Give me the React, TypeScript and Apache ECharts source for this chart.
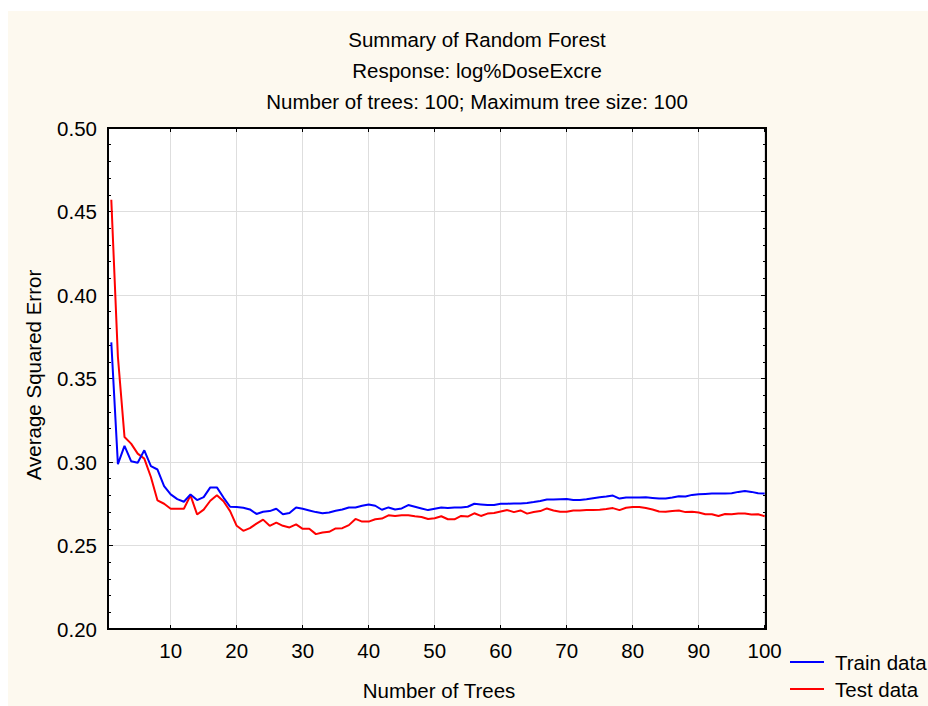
import React, { useEffect, useRef } from "react";
import * as echarts from "echarts";

const trees: number[] = Array.from({ length: 100 }, (_, i) => i + 1);

const trainData: number[] = [
  0.3716, 0.2987, 0.3097, 0.3005, 0.2995, 0.307, 0.2975, 0.2955, 0.2856, 0.2806,
  0.2778, 0.2762, 0.2806, 0.2772, 0.279, 0.2848, 0.2848, 0.2787, 0.2732, 0.273,
  0.2726, 0.2716, 0.2689, 0.2702, 0.2706, 0.272, 0.2687, 0.2695, 0.2728, 0.272,
  0.271, 0.27, 0.2693, 0.2698, 0.2708, 0.2716, 0.2728, 0.2728, 0.2738, 0.2746,
  0.2738, 0.2714, 0.2728, 0.2716, 0.2722, 0.2742, 0.2732, 0.2722, 0.2712, 0.272,
  0.2728, 0.2724, 0.2728, 0.2728, 0.2732, 0.275, 0.2746, 0.2742, 0.2742, 0.275,
  0.275, 0.2752, 0.2752, 0.2754, 0.276, 0.2767, 0.2775, 0.2775, 0.2777, 0.2779,
  0.2773, 0.2773, 0.2777, 0.2783, 0.2789, 0.2793, 0.2799, 0.2781, 0.2787, 0.2787,
  0.2787, 0.2789, 0.2785, 0.2781, 0.2781, 0.2787, 0.2795, 0.2793, 0.2803, 0.2807,
  0.2809, 0.2811, 0.2811, 0.2811, 0.2813, 0.2821, 0.2827, 0.2821, 0.2813, 0.2811,
];

const testData: number[] = [
  0.457, 0.363, 0.315, 0.311, 0.305, 0.302, 0.291, 0.277, 0.275, 0.272,
  0.272, 0.272, 0.28, 0.2686, 0.2715, 0.2768, 0.2801, 0.2765, 0.2706, 0.2618,
  0.2588, 0.2604, 0.2631, 0.2655, 0.2618, 0.2637, 0.2618, 0.2608, 0.2626, 0.26,
  0.26, 0.2568, 0.2578, 0.2582, 0.2602, 0.2604, 0.2622, 0.2659, 0.2643, 0.2643,
  0.2657, 0.2661, 0.2681, 0.2677, 0.2681, 0.2681, 0.2675, 0.2671, 0.2659, 0.2663,
  0.2675, 0.2657, 0.2657, 0.2677, 0.2673, 0.2693, 0.2677, 0.2691, 0.2695, 0.2704,
  0.2712, 0.27, 0.271, 0.2691, 0.27, 0.2706, 0.2722, 0.271, 0.2702, 0.2702,
  0.271, 0.271, 0.2712, 0.2712, 0.2714, 0.2718, 0.2724, 0.2712, 0.2726, 0.273,
  0.273, 0.2724, 0.2716, 0.2704, 0.2702, 0.2706, 0.271, 0.27, 0.2702, 0.2698,
  0.2687, 0.2687, 0.2677, 0.2689, 0.2687, 0.2691, 0.2691, 0.2685, 0.2687, 0.2675,
];

const xTicks: number[] = [10, 20, 30, 40, 50, 60, 70, 80, 90, 100];
const titleLines: string[] = [
  "Summary of Random Forest",
  "Response: log%DoseExcre",
  "Number of trees: 100; Maximum tree size: 100",
];
const seriesNames: string[] = ["Train data", "Test data"];
const seriesColors: string[] = ["#0000ff", "#ff0000"];
const xAxisTitle = "Number of Trees";
const yAxisTitle = "Average Squared Error";

const FONT = "'Liberation Sans', Arial, sans-serif";
const FS = 20.5;

export default function App() {
  const ref = useRef<HTMLDivElement>(null);
  useEffect(() => {
    const chart = echarts.init(ref.current!, null, { renderer: "svg" });
    const textStyle = { fontFamily: FONT, fontSize: FS, fill: "#000" };
    const legendItems = seriesNames.flatMap((name, i) => [
      {
        type: "line",
        shape: { x1: 782, y1: 651 + i * 27, x2: 816, y2: 651 + i * 27 },
        style: { stroke: seriesColors[i], lineWidth: 2 },
      },
      {
        type: "text",
        x: 827,
        y: 651 + i * 27,
        style: { ...textStyle, text: name, textAlign: "left", textVerticalAlign: "middle" },
      },
    ]);
    chart.setOption({
      animation: false,
      backgroundColor: "#fdf9ef",
      textStyle: { fontFamily: FONT },
      grid: {
        left: 100,
        top: 117,
        width: 658,
        height: 501,
        show: true,
        backgroundColor: "#ffffff",
        borderColor: "#000",
        borderWidth: 2,
      },
      graphic: [
        ...titleLines.map((t, i) => ({
          type: "text",
          x: 469,
          y: 28 + i * 31,
          style: { ...textStyle, text: t, textAlign: "center", textVerticalAlign: "middle" },
        })),
        {
          type: "text",
          x: 431,
          y: 679,
          style: { ...textStyle, text: xAxisTitle, textAlign: "center", textVerticalAlign: "middle" },
        },
        {
          type: "text",
          x: 25,
          y: 364,
          rotation: Math.PI / 2,
          style: { ...textStyle, text: yAxisTitle, textAlign: "center", textVerticalAlign: "middle" },
        },
        ...legendItems,
      ],
      xAxis: [
        {
          type: "value",
          min: 0.5,
          max: 100.2,
          position: "bottom",
          axisLine: { show: true, onZero: false, lineStyle: { color: "#000", width: 2 } },
          axisTick: { show: true, inside: true, length: 4, customValues: xTicks, lineStyle: { color: "#000" } },
          axisLabel: { customValues: xTicks, fontSize: FS, color: "#000", margin: 11, fontFamily: FONT },
          splitLine: { show: true, lineStyle: { color: "#dedede", width: 1 } },
        },
        {
          type: "value",
          min: 0.5,
          max: 100.2,
          position: "top",
          axisLine: { show: true, onZero: false, lineStyle: { color: "#000", width: 2 } },
          axisTick: { show: true, inside: true, length: 4, customValues: xTicks, lineStyle: { color: "#000" } },
          axisLabel: { show: false },
          splitLine: { show: false },
        },
      ],
      yAxis: [
        {
          type: "value",
          min: 0.2,
          max: 0.5,
          interval: 0.05,
          position: "left",
          axisLine: { show: true, onZero: false, lineStyle: { color: "#000", width: 2 } },
          axisTick: { show: true, inside: true, length: 5, lineStyle: { color: "#000" } },
          minorTick: { show: true, splitNumber: 5, length: 3, lineStyle: { color: "#000" } },
          axisLabel: {
            fontSize: FS,
            color: "#000",
            margin: 11,
            fontFamily: FONT,
            formatter: (v: number) => v.toFixed(2),
          },
          splitLine: { show: true, lineStyle: { color: "#dedede", width: 1 } },
        },
        {
          type: "value",
          min: 0.2,
          max: 0.5,
          interval: 0.05,
          position: "right",
          axisLine: { show: true, onZero: false, lineStyle: { color: "#000", width: 2 } },
          axisTick: { show: true, inside: true, length: 5, lineStyle: { color: "#000" } },
          minorTick: { show: true, splitNumber: 5, length: 3, lineStyle: { color: "#000" } },
          axisLabel: { show: false },
          splitLine: { show: false },
        },
      ],
      series: [
        {
          name: seriesNames[0],
          type: "line",
          symbol: "none",
          data: trees.map((t, i) => [t, trainData[i]]),
          lineStyle: { color: seriesColors[0], width: 2 },
          itemStyle: { color: seriesColors[0] },
          z: 3,
        },
        {
          name: seriesNames[1],
          type: "line",
          symbol: "none",
          data: trees.map((t, i) => [t, testData[i]]),
          lineStyle: { color: seriesColors[1], width: 2 },
          itemStyle: { color: seriesColors[1] },
          z: 2,
        },
      ],
    });
    return () => chart.dispose();
  }, []);
  return (
    <div
      ref={ref}
      style={{ position: "absolute", left: 8, top: 11, width: 920, height: 695 }}
    />
  );
}
